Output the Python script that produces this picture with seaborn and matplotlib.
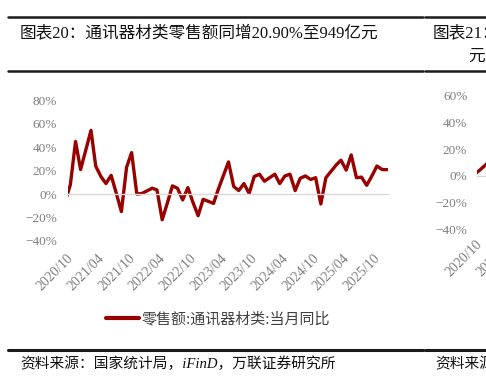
import numpy as np
import pandas as pd
import matplotlib
matplotlib.use('Agg')
import matplotlib.pyplot as plt
import matplotlib.dates as mdates
import matplotlib.ticker as mticker
import matplotlib.transforms as mtransforms
from matplotlib.lines import Line2D
import seaborn as sns

# monthly yoy (%), January is merged into Jan-Feb so it has no point of its own
months = ['2020-09', '2020-10', '2020-11', '2020-12',
          '2021-02', '2021-03', '2021-04', '2021-05', '2021-06', '2021-07', '2021-08', '2021-09', '2021-10', '2021-11', '2021-12',
          '2022-02', '2022-03', '2022-04', '2022-05', '2022-06', '2022-07', '2022-08', '2022-09', '2022-10', '2022-11', '2022-12',
          '2023-02', '2023-03', '2023-04', '2023-05', '2023-06', '2023-07', '2023-08', '2023-09', '2023-10', '2023-11', '2023-12',
          '2024-02', '2024-03', '2024-04', '2024-05', '2024-06', '2024-07', '2024-08', '2024-09', '2024-10', '2024-11', '2024-12',
          '2025-02', '2025-03', '2025-04', '2025-05', '2025-06', '2025-07', '2025-08', '2025-09', '2025-10', '2025-11', '2025-12']
yoy = [-6, 8, 45, 21,
       54.5, 24, 15, 9, 16, 1, -15, 23, 35.5, 0, 0.5,
       5, 3.5, -22, -8, 7, 5, -5, 5.5, -7, -18.5, -4.5,
       -8, 4, 16, 27.5, 6.5, 3, 9, 0.5, 15, 17, 11,
       17, 9, 15.5, 17, 3, 13.5, 15.5, 12.5, 14, -8.5, 14,
       25, 29, 20.5, 33.5, 14, 14.5, 7.5, 15.5, 24, 21, 20.9]

# the next chart (图表21) is cut off at the right edge, only its start shows
right_months = ['2020-09', '2020-10', '2020-11', '2020-12']
right_yoy = [1, 4, 7.5, 11]
right_ticks = ['2020-10-01', '2021-04-01']

title = '图表20：通讯器材类零售额同增20.90%至949亿元'
legend_label = '零售额:通讯器材类:当月同比'
source = '资料来源：国家统计局，iFinD，万联证券研究所'

RED = '#990000'
GRAY = '#7f7f7f'
W, H = 486, 383

sns.set_style('white')
plt.rcParams['font.family'] = ['Liberation Serif', 'Noto Sans CJK SC', 'DejaVu Sans']
plt.rcParams['axes.unicode_minus'] = True

df = pd.DataFrame({'date': pd.to_datetime(months) + pd.Timedelta(days=14), 'yoy': yoy})
df_r = pd.DataFrame({'date': pd.to_datetime(right_months) + pd.Timedelta(days=14), 'yoy': right_yoy})


def style_axis(fig, ax, ymin, ymax, xpad, ypad, locator):
    ax.set_xlim(pd.Timestamp('2020-10-01'), pd.Timestamp('2025-12-20'))
    ax.set_ylim(ymin, ymax)
    ax.set_yticks(np.arange(ymin, ymax + 1, 20))
    ax.yaxis.set_major_formatter(mticker.FuncFormatter(lambda v, _: f'{v:.0f}%'.replace('-', '−')))
    ax.xaxis.set_major_locator(locator)
    ax.xaxis.set_major_formatter(mdates.DateFormatter('%Y/%m'))
    for s in ['top', 'right', 'left']:
        ax.spines[s].set_visible(False)
    ax.spines['bottom'].set_position(('data', 0))
    ax.spines['bottom'].set_color('#d9d9d9')
    ax.spines['bottom'].set_linewidth(1)
    ax.tick_params(axis='x', length=3, width=0.8, color='#d9d9d9', pad=xpad,
                   labelsize=10, labelcolor=GRAY)
    ax.tick_params(axis='y', length=0, pad=ypad, labelsize=9.5, labelcolor=GRAY)
    shift = mtransforms.ScaledTranslation(0.035, 0, fig.dpi_scale_trans)
    for lbl in ax.get_xticklabels():
        lbl.set_rotation(45)
        lbl.set_ha('right')
        lbl.set_va('center')
        lbl.set_rotation_mode('anchor')
        lbl.set_transform(lbl.get_transform() + shift)
    ax.set_xlabel('')
    ax.set_ylabel('')
    ax.grid(False)


fig = plt.figure(figsize=(W / 100, H / 100), dpi=100)

ax = fig.add_axes([68 / W, 1 - 240.8 / H, 320 / W, (240.8 - 100.6) / H])
sns.lineplot(data=df, x='date', y='yoy', ax=ax, color=RED, lw=2.4, label=legend_label)
style_axis(fig, ax, -40, 80, xpad=42, ypad=8, locator=mdates.MonthLocator(bymonth=[4, 10]))
leg = ax.legend(loc='center', bbox_to_anchor=(218 / W, 1 - 319 / H), bbox_transform=fig.transFigure,
                frameon=False, handlelength=2.2, handletextpad=0.15,
                prop={'family': ['Noto Sans CJK SC'], 'size': 10.8})
for t in leg.get_texts():
    t.set_color('#404040')
for h in leg.get_lines():
    h.set_linewidth(3)

ax2 = fig.add_axes([477 / W, 1 - 229 / H, 320 / W, 133 / H])
sns.lineplot(data=df_r, x='date', y='yoy', ax=ax2, color=RED, lw=2.4, legend=False)
style_axis(fig, ax2, -40, 60, xpad=45, ypad=7,
           locator=mticker.FixedLocator(mdates.date2num(pd.to_datetime(right_ticks))))

# header / footer rules
for y, lw in [(17, 1.8), (71, 1.8), (350, 2.2)]:
    for x0, x1 in [(8, 423), (425, W)]:
        fig.add_artist(Line2D([x0 / W, x1 / W], [1 - y / H, 1 - y / H], transform=fig.transFigure,
                              color='#1a1a1a', lw=lw))

fig.text(20 / W, 1 - 33 / H, title, fontsize=12, ha='left', va='center', color='#111111')
fig.text(433 / W, 1 - 33 / H, '图表21：', fontsize=12, ha='left', va='center', color='#111111')
fig.text(468 / W, 1 - 57 / H, '元', fontsize=12, ha='left', va='center', color='#111111')
fig.text(20 / W, 1 - 364 / H, source, fontsize=10.6, ha='left', va='center', style='italic', color='#111111')
fig.text(435 / W, 1 - 364 / H, '资料来源：', fontsize=10.6, ha='left', va='center', style='italic', color='#111111')

fig.savefig('out.png', dpi=100)
